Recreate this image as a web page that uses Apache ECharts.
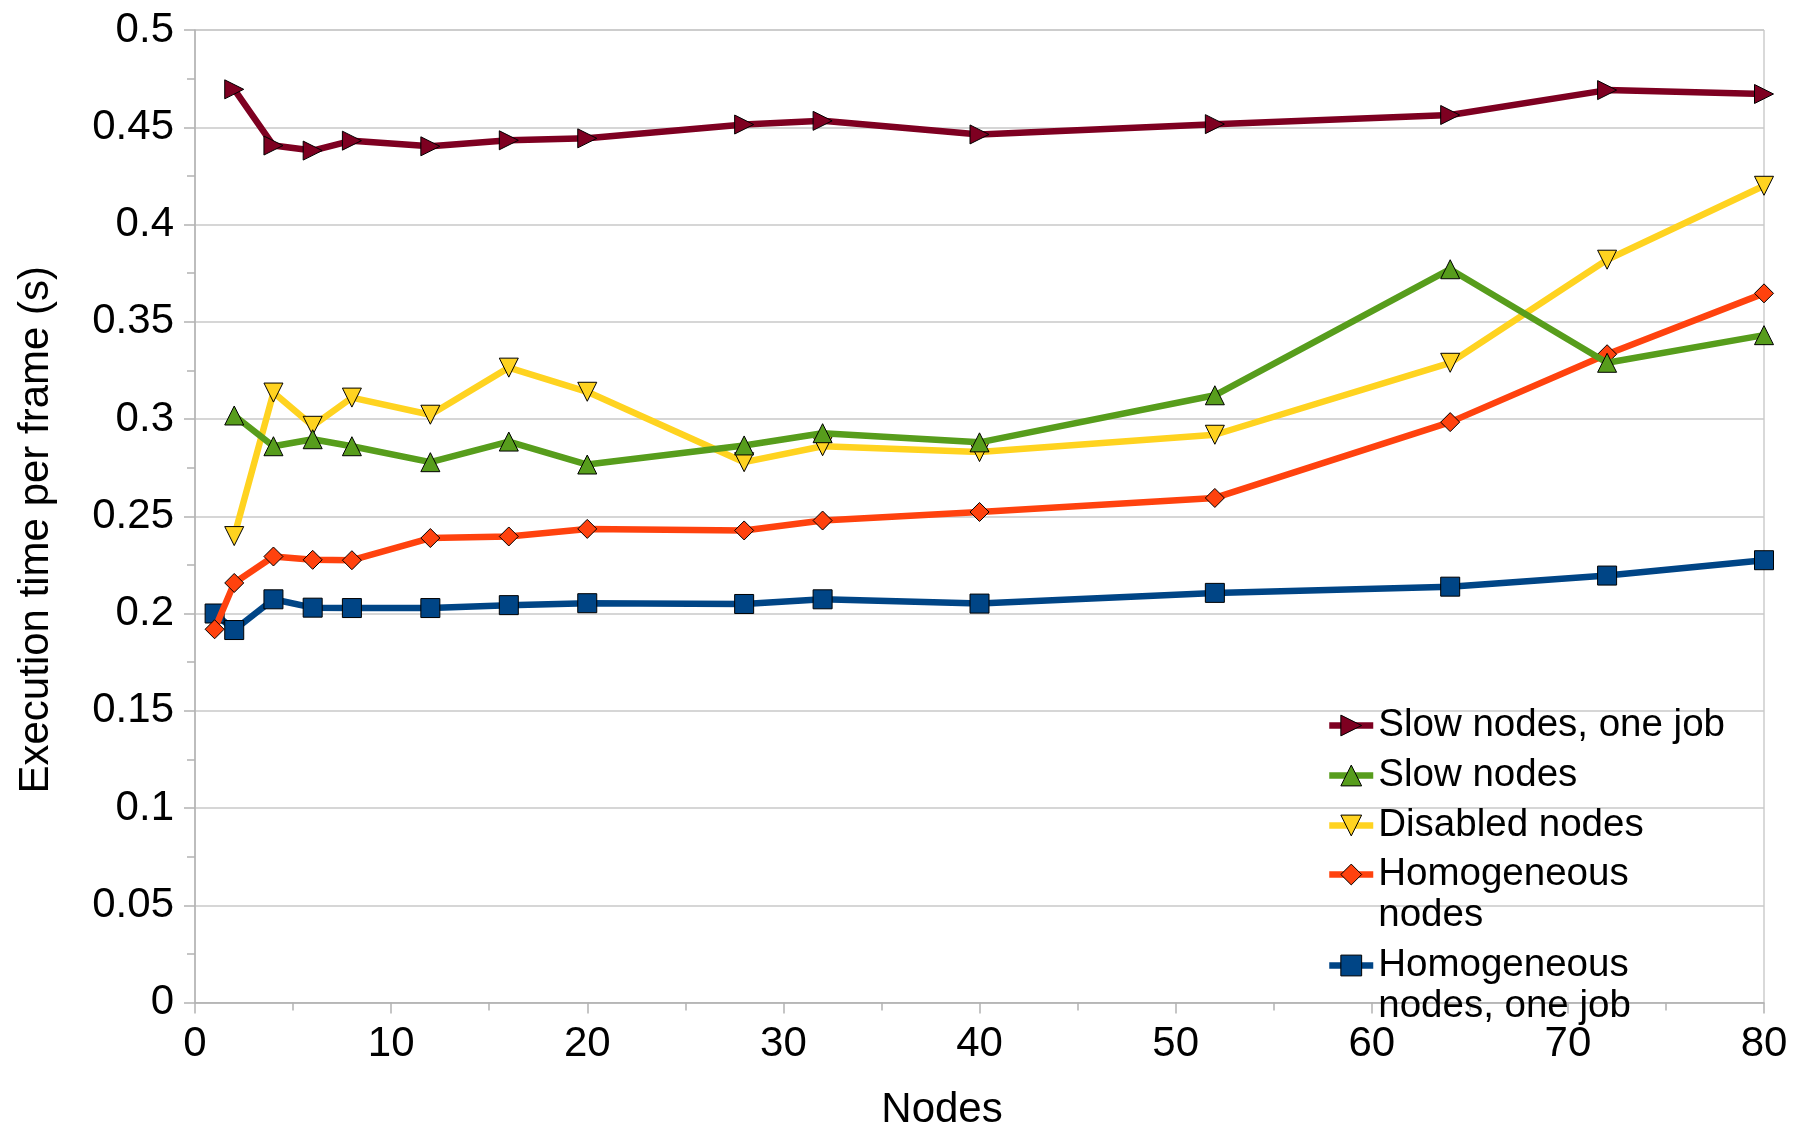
<!DOCTYPE html>
<html>
<head>
<meta charset="utf-8">
<title>Execution time per frame</title>
<script src="https://cdn.jsdelivr.net/npm/echarts@6/dist/echarts.min.js"></script>
<style>
  html, body { margin: 0; padding: 0; background: #ffffff; }
  #chart { width: 1795px; height: 1131px; }
</style>
</head>
<body>
<div id="chart"></div>
<script>
// Node counts on the x axis
const nodes = [1, 2, 4, 6, 8, 12, 16, 20, 28, 32, 40, 52, 64, 72, 80];

// Execution time per frame (s); null where no run was made
const slowOneJob   = [null, 0.4695, 0.4406, 0.4380, 0.4431, 0.4402, 0.4433, 0.4443, 0.4514, 0.4533, 0.4463, 0.4516, 0.4563, 0.4691, 0.4671];
const slowNodes    = [null, 0.3018, 0.2860, 0.2896, 0.2860, 0.2778, 0.2884, 0.2766, 0.2864, 0.2927, 0.2880, 0.3122, 0.3770, 0.3289, 0.3431];
const disabled     = [null, 0.2398, 0.3136, 0.2965, 0.3110, 0.3022, 0.3264, 0.3140, 0.2778, 0.2860, 0.2830, 0.2919, 0.3289, 0.3819, 0.4199];
const homogeneous  = [0.1919, 0.2157, 0.2293, 0.2276, 0.2274, 0.2388, 0.2396, 0.2435, 0.2427, 0.2478, 0.2522, 0.2594, 0.2984, 0.3333, 0.3646];
const homogOneJob  = [0.2000, 0.1915, 0.2073, 0.2030, 0.2028, 0.2028, 0.2043, 0.2053, 0.2049, 0.2073, 0.2051, 0.2106, 0.2138, 0.2195, 0.2274];

// Series names
const names = [
  'Slow nodes, one job',
  'Slow nodes',
  'Disabled nodes',
  'Homogeneous nodes',
  'Homogeneous nodes, one job'
];

// Tick labels
const yTickLabels = ['0', '0.05', '0.1', '0.15', '0.2', '0.25', '0.3', '0.35', '0.4', '0.45', '0.5'];
const xTickLabels = ['0', '10', '20', '30', '40', '50', '60', '70', '80'];

const FONT = '"Liberation Sans", Arial, sans-serif';
const AXIS_GREY = '#b3b3b3';
const GRID_GREY = '#c8c8c8';
const LINE_WIDTH = 6.5;

function pairs(values) {
  const out = [];
  values.forEach((v, i) => { if (v !== null) out.push([nodes[i], v]); });
  return out;
}

function lineSeries(name, values, color, symbol, rotate, z) {
  return {
    name: name,
    type: 'line',
    data: pairs(values),
    z: z,
    symbol: symbol,
    symbolSize: 19,
    symbolRotate: rotate,
    showSymbol: true,
    showAllSymbol: true,
    lineStyle: { color: color, width: LINE_WIDTH },
    itemStyle: { color: color, borderColor: '#000000', borderWidth: 1 },
    emphasis: { disabled: true },
    animation: false
  };
}

const legendBase = {
  orient: 'vertical',
  left: 1326,
  padding: 0,
  itemWidth: 44,
  itemHeight: 26,
  itemGap: 9,
  selectedMode: false,
  lineStyle: { width: LINE_WIDTH },
  itemStyle: { borderColor: '#000000', borderWidth: 1 },
  textStyle: { fontFamily: FONT, fontSize: 38.5, color: '#000000', lineHeight: 41 }
};

const chart = echarts.init(document.getElementById('chart'), null, { renderer: 'canvas' });

chart.setOption({
  backgroundColor: '#ffffff',
  animation: false,
  grid: {
    left: 195, right: 31, top: 30, bottom: 128.5,
    outerBoundsMode: 'none',
    containLabel: false,
    show: true, borderColor: AXIS_GREY, borderWidth: 1, backgroundColor: 'transparent'
  },
  legend: [
    Object.assign({}, legendBase, { top: 705, data: names.slice(0, 3) }),
    Object.assign({}, legendBase, {
      top: 813, data: [names[3]],
      formatter: () => '\nHomogeneous\nnodes'
    }),
    Object.assign({}, legendBase, {
      top: 904, data: [names[4]],
      formatter: () => '\nHomogeneous\nnodes, one job'
    })
  ],
  xAxis: {
    type: 'value',
    min: 0, max: 80, interval: 10,
    name: 'Nodes',
    nameLocation: 'middle',
    nameGap: 87,
    nameTextStyle: { fontFamily: FONT, fontSize: 42, color: '#000000', padding: [0, 75, 0, 0] },
    axisLine: { show: true, lineStyle: { color: AXIS_GREY, width: 1.5 } },
    axisTick: { show: true, length: 11, lineStyle: { color: AXIS_GREY, width: 1.5 } },
    minorTick: { show: true, splitNumber: 2, length: 8, lineStyle: { color: AXIS_GREY, width: 1.5 } },
    splitLine: { show: false },
    axisLabel: {
      fontFamily: FONT, fontSize: 42, color: '#000000', margin: 21,
      formatter: (v, i) => xTickLabels[i]
    }
  },
  yAxis: {
    type: 'value',
    min: 0, max: 0.5, interval: 0.05,
    name: 'Execution time per frame (s)',
    nameLocation: 'middle',
    nameGap: 138,
    nameTextStyle: { fontFamily: FONT, fontSize: 42, color: '#000000', padding: [0, 27, 0, 0] },
    axisLine: { show: true, lineStyle: { color: AXIS_GREY, width: 1.5 } },
    axisTick: { show: true, length: 11, lineStyle: { color: AXIS_GREY, width: 1.5 } },
    minorTick: { show: true, splitNumber: 2, length: 8, lineStyle: { color: AXIS_GREY, width: 1.5 } },
    splitLine: { show: true, lineStyle: { color: GRID_GREY, width: 1.5 } },
    axisLabel: {
      fontFamily: FONT, fontSize: 42, color: '#000000', margin: 21,
      formatter: (v, i) => yTickLabels[i]
    }
  },
  series: [
    lineSeries(names[0], slowOneJob,  '#7e0021', 'triangle', -90, 10),
    lineSeries(names[1], slowNodes,   '#579d1c', 'triangle', 0,   9),
    lineSeries(names[2], disabled,    '#ffd320', 'triangle', 180, 8),
    lineSeries(names[3], homogeneous, '#ff420e', 'diamond',  0,   7),
    lineSeries(names[4], homogOneJob, '#004586', 'rect',     0,   6)
  ]
});
</script>
</body>
</html>
